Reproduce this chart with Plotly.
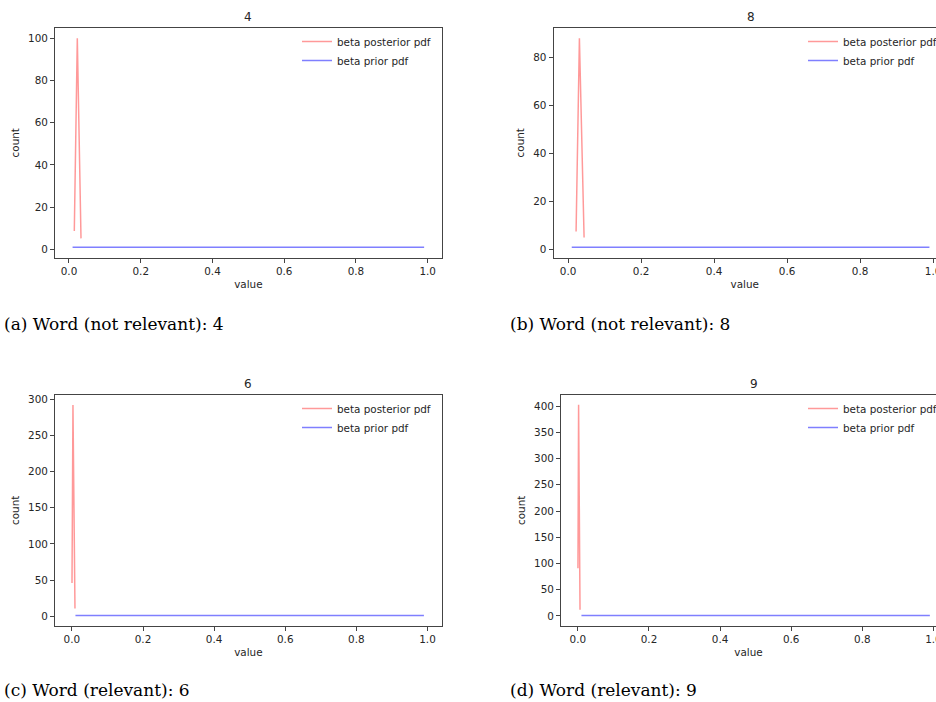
import plotly.graph_objects as go

# Beta prior / posterior densities for four words
panel_titles = ["4", "8", "6", "9"]
captions = [
    "(a) Word (not relevant): 4",
    "(b) Word (not relevant): 8",
    "(c) Word (relevant): 6",
    "(d) Word (relevant): 9",
]

posterior_x = [
    [0.0148, 0.0232, 0.0335],
    [0.0219, 0.0310, 0.0438],
    [0.0003, 0.0030, 0.0087],
    [0.0002, 0.0020, 0.0060],
]
posterior_y = [
    [8.7, 100.0, 5.2],
    [7.6, 88.0, 5.1],
    [46.0, 292.0, 10.6],
    [90.8, 402.5, 12.0],
]
prior_x = [0.01, 0.99]
prior_y = [1.0, 1.0]

x_ticks = [0.0, 0.2, 0.4, 0.6, 0.8, 1.0]
y_ticks = [
    [0, 20, 40, 60, 80, 100],
    [0, 20, 40, 60, 80],
    [0, 50, 100, 150, 200, 250, 300],
    [0, 50, 100, 150, 200, 250, 300, 350, 400],
]

W, H = 936, 702

# panel geometry in pixels: left, right, top, bottom
boxes = [
    (55, 441.7, 27.8, 257.7),
    (553.5, 936, 27.8, 257.7),
    (55, 441.7, 394.7, 626),
    (561, 936, 394.7, 626),
]
x_ranges = [[-0.039, 1.039], [-0.040, 1.008], [-0.0475, 1.04], [-0.0475, 1.0073]]
y_ranges = [[-3.95, 104.95], [-3.35, 92.35], [-13.6, 306.3], [-19.1, 421.6]]
legend_pos = [(297, 27), (803, 27), (297, 394), (803, 394)]
title_x = [248.3, 751, 248.3, 753.7]
caption_pos = [(2, 324), (508, 324), (2, 690), (508, 690)]

spine = "#444444"
text_col = "#262626"
tick_font = dict(family="DejaVu Sans", size=10.4, color=text_col)

fig = go.Figure()
layout = dict(
    width=W, height=H,
    margin=dict(l=0, r=0, t=0, b=0, autoexpand=False),
    paper_bgcolor="white", plot_bgcolor="white",
    showlegend=True,
    annotations=[],
)

for i in range(4):
    sfx = "" if i == 0 else str(i + 1)
    leg = "legend" + sfx
    xa, ya = "x" + sfx, "y" + sfx
    fig.add_trace(go.Scatter(
        x=posterior_x[i], y=posterior_y[i], mode="lines",
        line=dict(color="rgba(255,0,0,0.4)", width=1.5),
        name="beta posterior pdf", xaxis=xa, yaxis=ya, legend=leg,
    ))
    fig.add_trace(go.Scatter(
        x=prior_x, y=prior_y, mode="lines",
        line=dict(color="rgba(0,0,255,0.5)", width=1.5),
        name="beta prior pdf", xaxis=xa, yaxis=ya, legend=leg,
    ))

    l, r, t, b = boxes[i]
    right_col = i in (1, 3)
    layout["xaxis" + sfx] = dict(
        domain=[l / W, r / W], anchor=ya, range=x_ranges[i],
        tickvals=x_ticks, tickformat=".1f",
        showgrid=False, zeroline=False,
        showline=True, linecolor=spine, linewidth=1, mirror=True,
        ticks="outside", ticklen=4, tickcolor=spine, tickwidth=1,
        tickfont=tick_font, ticklabeloverflow="allow",
        title=dict(text="value", font=tick_font, standoff=4),
    )
    layout["yaxis" + sfx] = dict(
        domain=[1 - b / H, 1 - t / H], anchor=xa, range=y_ranges[i],
        tickvals=y_ticks[i],
        showgrid=False, zeroline=False,
        showline=True, linecolor=spine, linewidth=1,
        mirror=False if right_col else True,
        ticks="outside", ticklen=4, tickcolor=spine, tickwidth=1,
        tickfont=tick_font,
        title=dict(text="count", font=tick_font, standoff=6),
    )
    lx, ly = legend_pos[i]
    layout[leg] = dict(
        x=lx / W, y=1 - ly / H, xanchor="left", yanchor="top",
        bgcolor="rgba(0,0,0,0)", borderwidth=0,
        font=dict(family="DejaVu Sans", size=10.4, color=text_col),
        itemwidth=30,
    )
    layout["annotations"].append(dict(
        text=panel_titles[i], xref="paper", yref="paper",
        x=title_x[i] / W, y=1 - (t - 2) / H, xanchor="center", yanchor="bottom",
        showarrow=False, font=dict(family="DejaVu Sans", size=12, color=text_col),
    ))
    cx, cy = caption_pos[i]
    layout["annotations"].append(dict(
        text=captions[i], xref="paper", yref="paper",
        x=cx / W, y=1 - cy / H, xanchor="left", yanchor="middle",
        showarrow=False, font=dict(family="DejaVu Serif", size=17, color="black"),
    ))

fig.update_layout(**layout)
fig.write_html("out.html")
